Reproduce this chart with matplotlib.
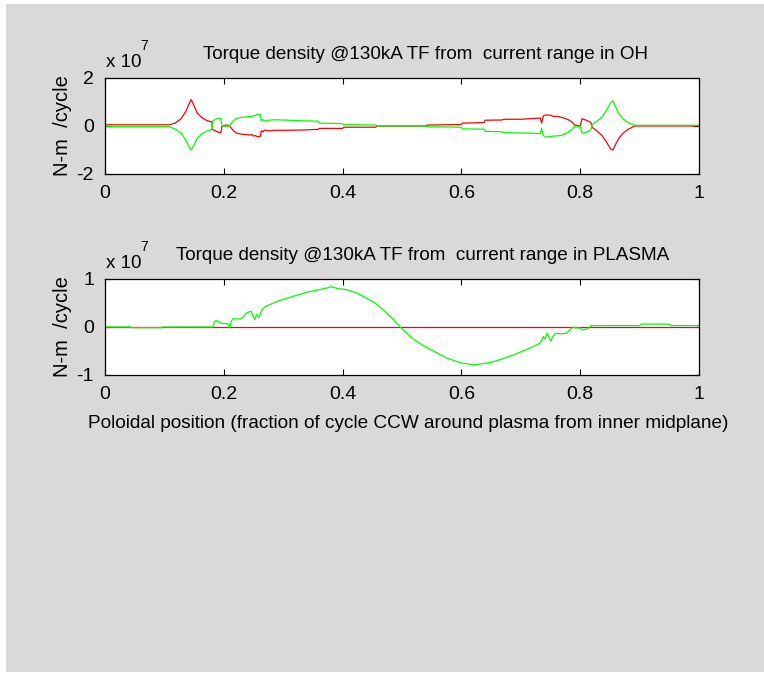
import numpy as np
import matplotlib.pyplot as plt
from matplotlib.patches import Rectangle

plt.rcParams['font.family'] = ['Liberation Sans', 'DejaVu Sans']
plt.rcParams['axes.unicode_minus'] = False

# top panel: torque density from OH current range (units of 1e7 N-m/cycle)
oh_red_x = [0, 0.108, 0.118, 0.128, 0.136, 0.142, 0.145, 0.149, 0.155, 0.163, 0.172, 0.180,
            0.181, 0.186, 0.192, 0.195, 0.197, 0.203, 0.209, 0.213, 0.217, 0.222, 0.23, 0.238,
            0.244, 0.247, 0.250, 0.253, 0.257, 0.262, 0.263, 0.266, 0.268, 0.275, 0.285, 0.30,
            0.33, 0.359, 0.361, 0.40, 0.402, 0.456, 0.458, 0.54, 0.542, 0.60, 0.602, 0.638,
            0.640, 0.668, 0.672, 0.70, 0.72, 0.733, 0.735, 0.738, 0.742, 0.75, 0.755, 0.762,
            0.77, 0.78, 0.787, 0.79, 0.795, 0.80, 0.803, 0.806, 0.812, 0.818, 0.82, 0.828,
            0.837, 0.845, 0.851, 0.855, 0.858, 0.864, 0.872, 0.882, 0.892, 1.0]
oh_red_y = [0.05, 0.05, 0.12, 0.3, 0.6, 0.95, 1.1, 0.9, 0.55, 0.35, 0.22, 0.17,
            -0.15, -0.2, -0.27, -0.28, 0.0, 0.04, 0.02, -0.1, -0.22, -0.3, -0.34, -0.36,
            -0.38, -0.35, -0.42, -0.4, -0.45, -0.42, -0.2, -0.25, -0.17, -0.2, -0.18, -0.18,
            -0.17, -0.14, -0.1, -0.1, -0.05, -0.05, 0.0, 0.0, 0.04, 0.06, 0.12, 0.14,
            0.24, 0.25, 0.28, 0.28, 0.31, 0.33, 0.12, 0.42, 0.46, 0.45, 0.4, 0.4,
            0.35, 0.26, 0.15, 0.05, 0.02, 0.0, 0.3, 0.28, 0.22, 0.15, -0.05, -0.2,
            -0.4, -0.7, -0.95, -1.0, -0.85, -0.55, -0.3, -0.12, 0.0, 0.0]

oh_green_x = [0, 0.108, 0.118, 0.128, 0.136, 0.142, 0.145, 0.149, 0.155, 0.163, 0.172, 0.180,
              0.181, 0.186, 0.192, 0.195, 0.197, 0.203, 0.209, 0.213, 0.217, 0.222, 0.23, 0.238,
              0.244, 0.247, 0.250, 0.253, 0.257, 0.262, 0.263, 0.266, 0.268, 0.275, 0.285, 0.30,
              0.33, 0.359, 0.361, 0.40, 0.402, 0.456, 0.458, 0.54, 0.542, 0.60, 0.602, 0.638,
              0.640, 0.668, 0.672, 0.70, 0.72, 0.733, 0.735, 0.738, 0.742, 0.75, 0.755, 0.762,
              0.77, 0.78, 0.787, 0.79, 0.795, 0.80, 0.803, 0.806, 0.812, 0.818, 0.82, 0.828,
              0.837, 0.845, 0.851, 0.855, 0.858, 0.864, 0.872, 0.882, 0.892, 1.0]
oh_green_y = [-0.03, -0.03, -0.12, -0.3, -0.58, -0.9, -1.0, -0.85, -0.52, -0.33, -0.2, -0.15,
              0.2, 0.28, 0.32, 0.3, 0.02, -0.02, 0.0, 0.12, 0.24, 0.32, 0.36, 0.38,
              0.4, 0.37, 0.44, 0.42, 0.5, 0.45, 0.22, 0.27, 0.2, 0.24, 0.26, 0.25,
              0.22, 0.2, 0.12, 0.1, 0.06, 0.04, 0.0, 0.0, -0.03, -0.05, -0.12, -0.13,
              -0.22, -0.24, -0.28, -0.29, -0.3, -0.32, -0.1, -0.4, -0.46, -0.44, -0.42, -0.41,
              -0.38, -0.26, -0.12, -0.02, -0.05, 0.0, -0.28, -0.3, -0.24, -0.15, 0.05, 0.2,
              0.38, 0.68, 0.95, 1.05, 0.9, 0.55, 0.3, 0.12, 0.03, 0.03]

# bottom panel: torque density from plasma current range
pl_red_x = [0, 1.0]
pl_red_y = [0.0, 0.0]

pl_green_x = [0, 0.044, 0.0441, 0.096, 0.0961, 0.182, 0.184, 0.187, 0.192, 0.196, 0.204, 0.208,
              0.210, 0.213, 0.215, 0.227, 0.232, 0.238, 0.246, 0.249, 0.252, 0.255, 0.258, 0.26,
              0.263, 0.269, 0.289, 0.317, 0.345, 0.362, 0.376, 0.38, 0.392, 0.407, 0.425, 0.44,
              0.455, 0.468, 0.482, 0.497, 0.51, 0.52, 0.535, 0.548, 0.562, 0.576, 0.59, 0.60,
              0.612, 0.621, 0.632, 0.649, 0.668, 0.688, 0.708, 0.727, 0.733, 0.738, 0.741, 0.744,
              0.748, 0.75, 0.754, 0.758, 0.768, 0.777, 0.782, 0.788, 0.791, 0.80, 0.805, 0.812,
              0.819, 0.90, 0.903, 0.95, 0.953, 1.0]
pl_green_y = [0.0, 0.0, -0.015, -0.015, 0.0, 0.0, 0.1, 0.14, 0.1, 0.08, 0.07, 0.05,
              -0.02, 0.12, 0.17, 0.17, 0.2, 0.29, 0.33, 0.24, 0.15, 0.26, 0.2, 0.21,
              0.33, 0.42, 0.53, 0.64, 0.74, 0.78, 0.82, 0.84, 0.8, 0.78, 0.7, 0.6,
              0.5, 0.36, 0.2, 0.0, -0.15, -0.26, -0.38, -0.47, -0.56, -0.65, -0.71, -0.75,
              -0.77, -0.79, -0.77, -0.74, -0.67, -0.58, -0.48, -0.37, -0.33, -0.2, -0.25, -0.13,
              -0.22, -0.3, -0.2, -0.13, -0.14, -0.13, -0.07, 0.0, -0.02, -0.02, -0.06, -0.04,
              0.03, 0.03, 0.06, 0.06, 0.03, 0.03]

x_ticks = [0, 0.2, 0.4, 0.6, 0.8, 1]
x_ticklabels = ['0', '0.2', '0.4', '0.6', '0.8', '1']

fig = plt.figure(figsize=(7.64, 6.74), dpi=100)
fig.patch.set_facecolor('white')
fig.patches.append(Rectangle((6 / 764, 0.003), 1.0, 1 - 4 / 674 - 0.003,
                             transform=fig.transFigure, facecolor='#d9d9d9',
                             edgecolor='none', zorder=-10))

W, H = 764, 674


def make_axes(top_px, bottom_px):
    return fig.add_axes([105 / W, 1 - bottom_px / H, (699 - 105) / W, (bottom_px - top_px) / H])


def style(ax, ylim, yticks):
    ax.set_xlim(0, 1)
    ax.set_ylim(*ylim)
    ax.set_xticks(x_ticks)
    ax.set_xticklabels(x_ticklabels)
    ax.set_yticks(yticks)
    ax.set_yticklabels([str(t) for t in yticks])
    ax.tick_params(direction='in', top=True, right=True, length=4, width=0.8,
                   labelsize=14, pad=8)
    for s in ax.spines.values():
        s.set_linewidth(0.9)
    ax.set_ylabel('N-m  /cycle', fontsize=14.5, labelpad=3)


ax1 = make_axes(78, 174)
ax1.plot(oh_red_x, oh_red_y, color='red', lw=0.9)
ax1.plot(oh_green_x, oh_green_y, color='#00ff00', lw=0.9)
style(ax1, (-2, 2), [-2, 0, 2])
ax1.set_title('Torque density @130kA TF from  current range in OH', fontsize=13.6,
              pad=14, x=0.539)

ax2 = make_axes(279, 375)
ax2.plot(pl_red_x, pl_red_y, color='red', lw=0.9)
ax2.plot(pl_green_x, pl_green_y, color='#00ff00', lw=0.9)
style(ax2, (-1, 1), [-1, 0, 1])
ax2.set_title('Torque density @130kA TF from  current range in PLASMA', fontsize=13.6,
              pad=14, x=0.535)
ax2.set_xlabel('Poloidal position (fraction of cycle CCW around plasma from inner midplane)',
               fontsize=13.7)
ax2.xaxis.set_label_coords(0.51, -0.42)

# exponent labels above each axes
for y_px in (67, 268):
    fig.text(106 / W, 1 - y_px / H, 'x 10', fontsize=13.5, va='baseline')
    fig.text(140 / W, 1 - (y_px - 17) / H, '7', fontsize=10, va='baseline')

fig.savefig('out.png', dpi=100)
